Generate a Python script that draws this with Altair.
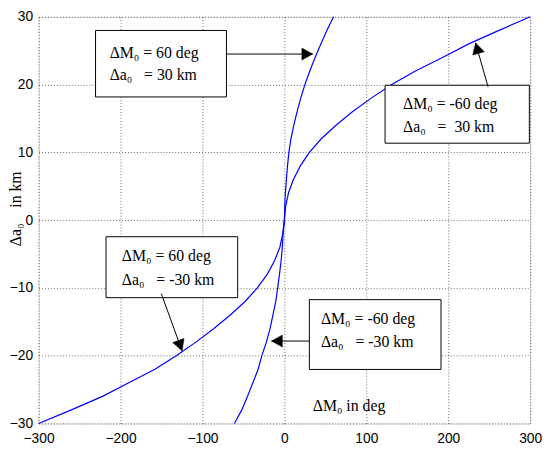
import altair as alt
import pandas as pd

NB = "\u00a0"

# ---- curve data ----
y_up = [0, 2, 4, 6, 8, 10, 12, 14, 16, 18, 20, 22, 24, 26, 28, 30]
y_dn = [0, -2, -4, -6, -8, -10, -12, -14, -16, -18, -20, -22, -24, -26, -28, -30]
# dM0 = 60 deg, da0 = 30 km (steep upper branch)
x_p60_p30 = [0, 0.4, 1.2, 2.5, 3.8, 5.5, 8, 11.5, 15.5, 20, 25, 31, 37.5, 44.5, 52, 60]
# dM0 = -60 deg, da0 = 30 km (shallow upper branch)
x_m60_p30 = [0, 1.5, 5, 11, 19.5, 30.5, 45, 63, 83, 106, 131, 160, 193, 225, 262, 300]
# dM0 = 60 deg, da0 = -30 km (shallow lower branch)
x_p60_m30 = [0, -2, -5.5, -12, -21, -33, -48, -66, -86, -108, -132, -158, -190, -222, -260, -300]
# dM0 = -60 deg, da0 = -30 km (steep lower branch)
x_m60_m30 = [0, -1.5, -2.5, -4, -6, -8.2, -10.5, -14, -17.5, -22, -27.5, -32, -38.5, -45, -52, -61]

x_ticks = [-300, -200, -100, 0, 100, 200, 300]
y_ticks = [-30, -20, -10, 0, 10, 20, 30]

series = [
    ("p60_p30", y_up, x_p60_p30),
    ("m60_p30", y_up, x_m60_p30),
    ("p60_m30", y_dn, x_p60_m30),
    ("m60_m30", y_dn, x_m60_m30),
]
rows = []
for name, ys_, xs_ in series:
    for i, (yy, xx) in enumerate(zip(ys_, xs_)):
        rows.append({"s": name, "i": i, "x": xx, "y": yy})
curves = pd.DataFrame(rows)

# ---- annotations ----
box_labels = [
    ["ΔM₀ = 60 deg", "Δa₀" + NB * 3 + "= 30 km"],
    ["ΔM₀ = -60 deg", "Δa₀" + NB * 3 + "=" + NB * 2 + "30 km"],
    ["ΔM₀ = 60 deg", "Δa₀" + NB * 3 + "= -30 km"],
    ["ΔM₀ = -60 deg", "Δa₀" + NB * 3 + "= -30 km"],
]
boxes = pd.DataFrame({
    "x": [-230.5, 122.9, -217.7, 30.5],
    "x2": [-70.7, 299.0, -57.0, 191.2],
    "y": [27.98, 19.9, -2.45, -11.73],
    "y2": [18.17, 11.35, -11.44, -22.03],
})
text_rows = []
text_pos = [(-213.3, 24.6, 21.4), (144.9, 17.1, 13.7), (-198.4, -5.3, -8.8), (44.6, -14.6, -18.0)]
for (tx, ty1, ty2), (l1, l2) in zip(text_pos, box_labels):
    text_rows.append({"x": tx, "y": ty1, "t": l1})
    text_rows.append({"x": tx, "y": ty2, "t": l2})
texts = pd.DataFrame(text_rows)

arrows = pd.DataFrame({
    "x": [-70.7, 248.6, -150.2, 30.5],
    "y": [24.5, 19.66, -10.86, -17.84],
    "x2": [34.6, 233.4, -124.9, -15.7],
    "y2": [24.5, 26.15, -19.28, -17.84],
    "ang": [90, 344.4, 160.2, 270],
})

xs = alt.Scale(domain=[-300, 300], nice=False, zero=False)
ys = alt.Scale(domain=[-30, 30], nice=False, zero=False)

x_axis = alt.Axis(values=x_ticks, title=None, grid=True, ticks=False, domain=False,
                  labelFont="Liberation Sans", labelFontSize=14, labelColor="black",
                  labelPadding=8, gridColor="black", gridDash=[1, 2], gridOpacity=0.6,
                  labelFlush=False)
y_axis = alt.Axis(values=y_ticks, title="Δa₀" + NB * 4 + "in km", grid=True, ticks=False, domain=False,
                  labelFont="Liberation Sans", labelFontSize=14, labelColor="black",
                  labelPadding=6, gridColor="black", gridDash=[1, 2], gridOpacity=0.6,
                  titleFont="Liberation Serif", titleFontSize=16, titleFontWeight="normal",
                  titleColor="black", titleX=-23, titleY=194, titleAngle=270,
                  titleAlign="center", titleBaseline="middle", labelFlush=False)

lines = alt.Chart(curves).mark_line(color="#0000ff", strokeWidth=1.2).encode(
    x=alt.X("x:Q", scale=xs, axis=x_axis),
    y=alt.Y("y:Q", scale=ys, axis=y_axis),
    detail="s:N",
    order="i:Q",
)

rects = alt.Chart(boxes).mark_rect(fill="white", stroke="black", strokeWidth=1).encode(
    x=alt.X("x:Q", scale=xs), x2="x2:Q", y=alt.Y("y:Q", scale=ys), y2="y2:Q"
)

txt = alt.Chart(texts).mark_text(align="left", baseline="middle", font="Liberation Serif",
                                 fontSize=16, color="black").encode(
    x=alt.X("x:Q", scale=xs), y=alt.Y("y:Q", scale=ys), text="t:N"
)

shafts = alt.Chart(arrows).mark_rule(color="black", strokeWidth=1).encode(
    x=alt.X("x:Q", scale=xs), y=alt.Y("y:Q", scale=ys), x2="x2:Q", y2="y2:Q"
)

heads = alt.Chart(arrows).mark_point(shape="M0,0L-0.55,1L0.55,1Z", filled=True, fill="black",
                                     stroke="black", strokeWidth=0.5, opacity=1, size=484).encode(
    x=alt.X("x2:Q", scale=xs), y=alt.Y("y2:Q", scale=ys), angle=alt.Angle("ang:Q", scale=None)
)

xtitle = alt.Chart(pd.DataFrame({"x": [34.6], "y": [-27.4], "t": ["ΔM₀ in deg"]})).mark_text(
    align="left", baseline="middle", font="Liberation Serif", fontSize=16, color="black"
).encode(x=alt.X("x:Q", scale=xs), y=alt.Y("y:Q", scale=ys), text="t:N")

chart = alt.layer(lines, rects, txt, shafts, heads, xtitle).properties(
    width=498, height=412,
    autosize=alt.AutoSizeParams(type="none"),
    padding={"left": 31, "top": 6, "right": 13, "bottom": 25},
).configure_view(stroke="black", strokeWidth=1.5).configure(background="white")

chart.save("out.html", embed_options={"renderer": "svg", "actions": False})
